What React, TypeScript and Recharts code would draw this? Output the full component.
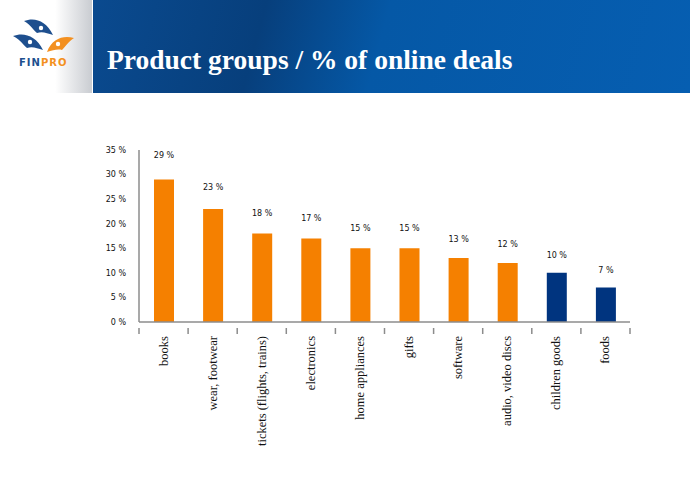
import React from "react"
import { BarChart, Bar, XAxis, YAxis, Cell, LabelList } from "recharts"

const categories = [
  "books",
  "wear, footwear",
  "tickets (flights, trains)",
  "electronics",
  "home appliances",
  "gifts",
  "software",
  "audio, video discs",
  "children goods",
  "foods",
]
const shares = [29, 23, 18, 17, 15, 15, 13, 12, 10, 7]
const yTicks = [0, 5, 10, 15, 20, 25, 30, 35]

const ORANGE = "#F58000"
const NAVY = "#00347F"
const AXIS = "#8c8c8c"
const BAND = 49.1
const TICK_MARGIN = 8

const data = categories.map((name, i) => ({ name, value: shares[i] }))

function CategoryTick(props: any) {
  const { x, y, payload, index } = props
  const axisY = y - TICK_MARGIN
  return (
    <g>
      <line x1={x - BAND / 2} x2={x - BAND / 2} y1={axisY} y2={axisY + 6} stroke={AXIS} strokeWidth={1.5} />
      {index === categories.length - 1 && (
        <line x1={x + BAND / 2} x2={x + BAND / 2} y1={axisY} y2={axisY + 6} stroke={AXIS} strokeWidth={1.5} />
      )}
      <text
        x={x}
        y={y}
        transform={`rotate(-90, ${x}, ${y})`}
        textAnchor="end"
        dy={4}
        fontFamily="Liberation Serif, serif"
        fontSize={12.5}
        fill="#111"
      >
        {payload.value}
      </text>
    </g>
  )
}

function ValueLabel(props: any) {
  const { x, y, width, value } = props
  return (
    <text
      x={x + width / 2}
      y={y - 12 - value * 0.32}
      textAnchor="middle"
      fontFamily="DejaVu Sans, sans-serif"
      fontSize={8}
      fill="#111"
    >
      {`${value} %`}
    </text>
  )
}

// rough FINPRO logo: three bird heads + wordmark
function Logo() {
  return (
    <svg width={92} height={93} style={{ position: "absolute", left: 0, top: 0 }}>
      <defs>
        <linearGradient id="logoBg" x1="0" y1="0" x2="1" y2="0">
          <stop offset="0.6" stopColor="#ffffff" />
          <stop offset="1" stopColor="#c9ccd1" />
        </linearGradient>
      </defs>
      <rect width={92} height={93} fill="url(#logoBg)" />
      <path d="M24 21 C34 17, 46 20, 53 35 C47 33, 42 31, 37 33 C33 30, 32 26, 24 21 Z" fill="#1E4F8E" />
      <circle cx={41} cy={28} r={2.2} fill="#ffffff" />
      <path d="M13 36 C23 32, 36 35, 43 50 C37 48, 32 46, 27 48 C23 45, 22 41, 13 36 Z" fill="#1E4F8E" />
      <circle cx={30} cy={42} r={2.2} fill="#ffffff" />
      <path d="M74 38 C64 35, 52 38, 47 52 C53 50, 58 49, 62 50 C66 46, 68 42, 74 38 Z" fill="#F39020" />
      <circle cx={58} cy={44} r={2.2} fill="#ffffff" />
      <text x={19} y={66} fontFamily="DejaVu Sans, sans-serif" fontWeight="bold" fontSize={10} letterSpacing={1}>
        <tspan fill="#1E4F8E">FIN</tspan>
        <tspan fill="#F39020">PRO</tspan>
      </text>
    </svg>
  )
}

export default function App() {
  return (
    <div
      style={{
        position: "absolute",
        left: 0,
        top: 0,
        width: 690,
        height: 504,
        background: "#ffffff",
        overflow: "hidden",
      }}
    >
      <Logo />
      <div
        style={{
          position: "absolute",
          left: 93,
          top: 0,
          width: 597,
          height: 93,
          background:
            "linear-gradient(105deg, #0a4a8f 0%, #073f7c 28%, #0558a6 48%, #065eb1 100%)",
        }}
      />
      <div
        style={{
          position: "absolute",
          left: 107,
          top: 44,
          color: "#ffffff",
          fontFamily: "Liberation Serif, serif",
          fontWeight: "bold",
          fontSize: 27.5,
          whiteSpace: "nowrap",
        }}
      >
        Product groups / % of online deals
      </div>
      <div style={{ position: "absolute", left: 90, top: 140 }}>
        <BarChart
          width={560}
          height={320}
          data={data}
          margin={{ top: 10, right: 20, bottom: 0, left: 0 }}
          barSize={20}
        >
          <XAxis
            dataKey="name"
            interval={0}
            axisLine={{ stroke: AXIS, strokeWidth: 1.5 }}
            tickLine={false}
            height={138}
            tickMargin={TICK_MARGIN}
            tick={<CategoryTick />}
          />
          <YAxis
            domain={[0, 35]}
            ticks={yTicks}
            width={49}
            tickLine={false}
            tickMargin={7}
            axisLine={{ stroke: AXIS, strokeWidth: 1.5 }}
            tickFormatter={(v: number) => `${v} %`}
            tick={{ fontFamily: "DejaVu Sans, sans-serif", fontSize: 8, fill: "#111" }}
          />
          <Bar dataKey="value" isAnimationActive={false}>
            {data.map((d, i) => (
              <Cell key={d.name} fill={i >= 8 ? NAVY : ORANGE} />
            ))}
            <LabelList dataKey="value" content={<ValueLabel />} />
          </Bar>
        </BarChart>
      </div>
    </div>
  )
}
